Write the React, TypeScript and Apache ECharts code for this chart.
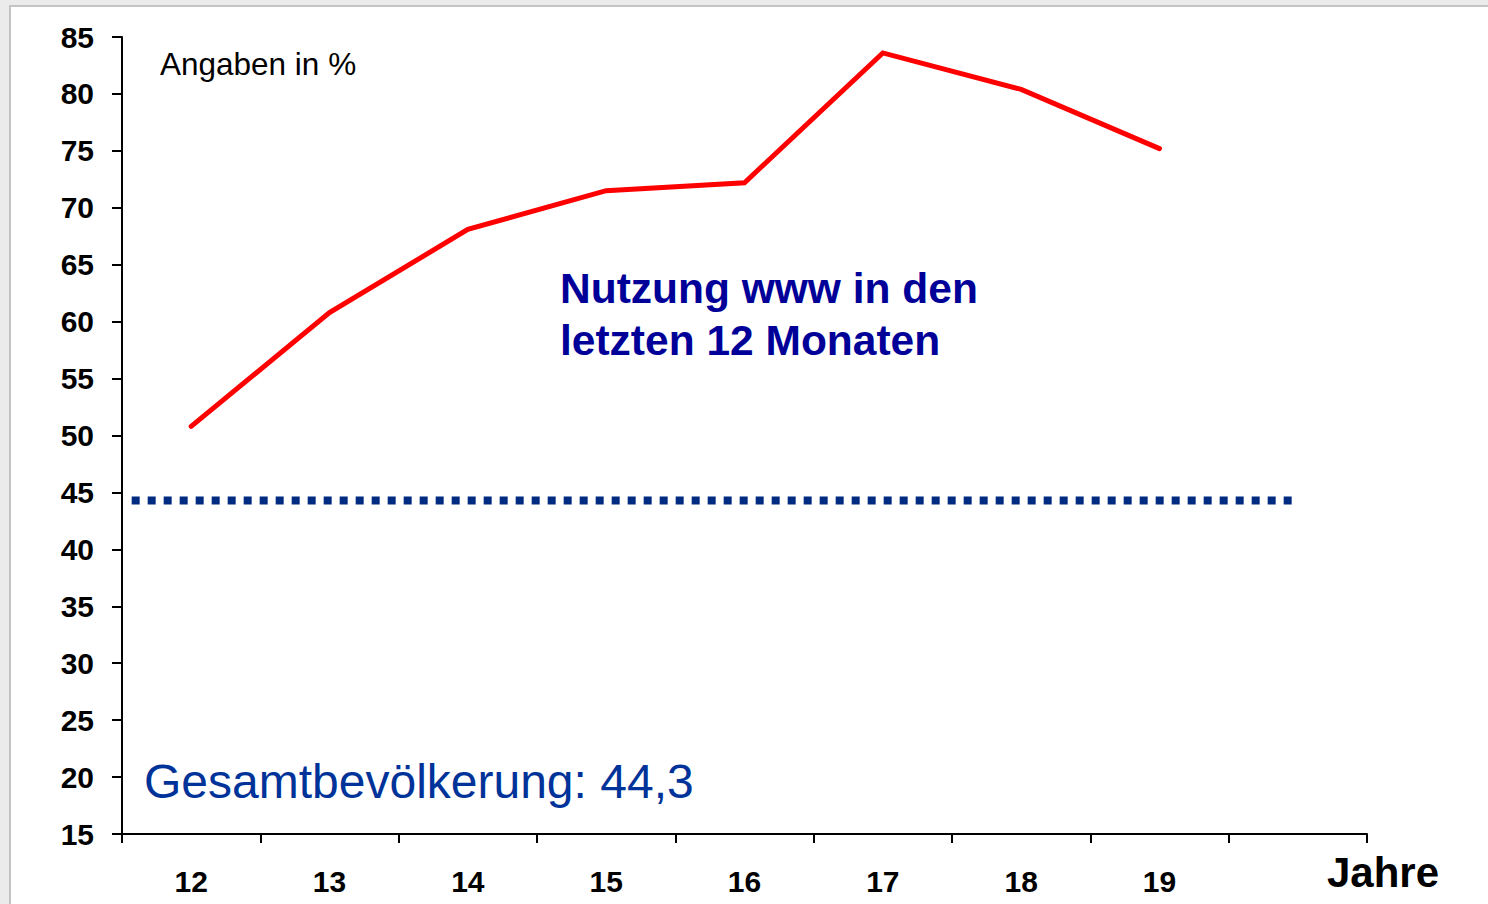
import React, { useEffect, useRef } from "react";
import * as echarts from "echarts";

const years = ["12", "13", "14", "15", "16", "17", "18", "19", ""];
const nutzung = [50.8, 60.8, 68.1, 71.5, 72.2, 83.6, 80.4, 75.2];
const gesamt = 44.3;
const gesamtFrom = 0.07;
const gesamtTo = 8.46;
const yMin = 15;
const yMax = 85;
const yStep = 5;

const FONT = "'Liberation Sans', Arial, Helvetica, sans-serif";

export default function App() {
  const ref = useRef<HTMLDivElement>(null);
  useEffect(() => {
    if (!ref.current) return;
    const chart = echarts.init(ref.current, undefined, { renderer: "svg" });
    chart.setOption({
      animation: false,
      backgroundColor: "#ebebeb",
      grid: { left: 122, right: 121, top: 37, bottom: 70, containLabel: false },
      graphic: [
        {
          type: "rect",
          z: -10,
          silent: true,
          shape: { x: 10, y: 6, width: 1600, height: 1000 },
          style: { fill: "#ffffff", stroke: "#c4c4c4", lineWidth: 2 },
        },
        {
          type: "text",
          left: 160,
          top: 48,
          style: { text: "Angaben in %", font: `31.5px ${FONT}`, fill: "#000000" },
        },
        {
          type: "text",
          left: 560,
          top: 262,
          style: {
            text: "Nutzung www in den\nletzten 12 Monaten",
            font: `bold 42.5px ${FONT}`,
            lineHeight: 52,
            fill: "#000099",
          },
        },
        {
          type: "text",
          left: 144,
          top: 757,
          style: { text: "Gesamtbevölkerung: 44,3", font: `48px ${FONT}`, fill: "#003399" },
        },
        {
          type: "text",
          left: 1327,
          top: 851,
          style: { text: "Jahre", font: `bold 42px ${FONT}`, fill: "#000000" },
        },
      ],
      xAxis: [
        {
          type: "category",
          data: years,
          boundaryGap: true,
          axisLine: { show: true, lineStyle: { color: "#000000", width: 2 } },
          axisTick: { show: true, length: 9, alignWithLabel: false, lineStyle: { color: "#000000", width: 2 } },
          axisLabel: {
            margin: 32,
            color: "#000000",
            fontSize: 30,
            fontWeight: "bold",
            fontFamily: FONT,
          },
          splitLine: { show: false },
        },
        {
          type: "value",
          min: 0,
          max: years.length,
          show: false,
        },
      ],
      yAxis: {
        type: "value",
        min: yMin,
        max: yMax,
        interval: yStep,
        axisLine: { show: true, lineStyle: { color: "#000000", width: 2 } },
        axisTick: { show: true, length: 10, lineStyle: { color: "#000000", width: 2 } },
        axisLabel: {
          margin: 28,
          color: "#000000",
          fontSize: 30,
          fontWeight: "bold",
          fontFamily: FONT,
        },
        splitLine: { show: false },
      },
      series: [
        {
          type: "line",
          data: nutzung,
          symbol: "none",
          lineStyle: { color: "#ff0000", width: 5, cap: "round", join: "miter" },
          z: 3,
        },
        {
          type: "line",
          xAxisIndex: 1,
          data: [
            [gesamtFrom, gesamt],
            [gesamtTo, gesamt],
          ],
          symbol: "none",
          lineStyle: { color: "#002b80", width: 8, type: [8, 8], cap: "butt" },
          z: 2,
        },
      ],
    });
    return () => chart.dispose();
  }, []);
  return (
    <div
      ref={ref}
      style={{ position: "fixed", left: 0, top: 0, width: 1488, height: 904 }}
    />
  );
}
